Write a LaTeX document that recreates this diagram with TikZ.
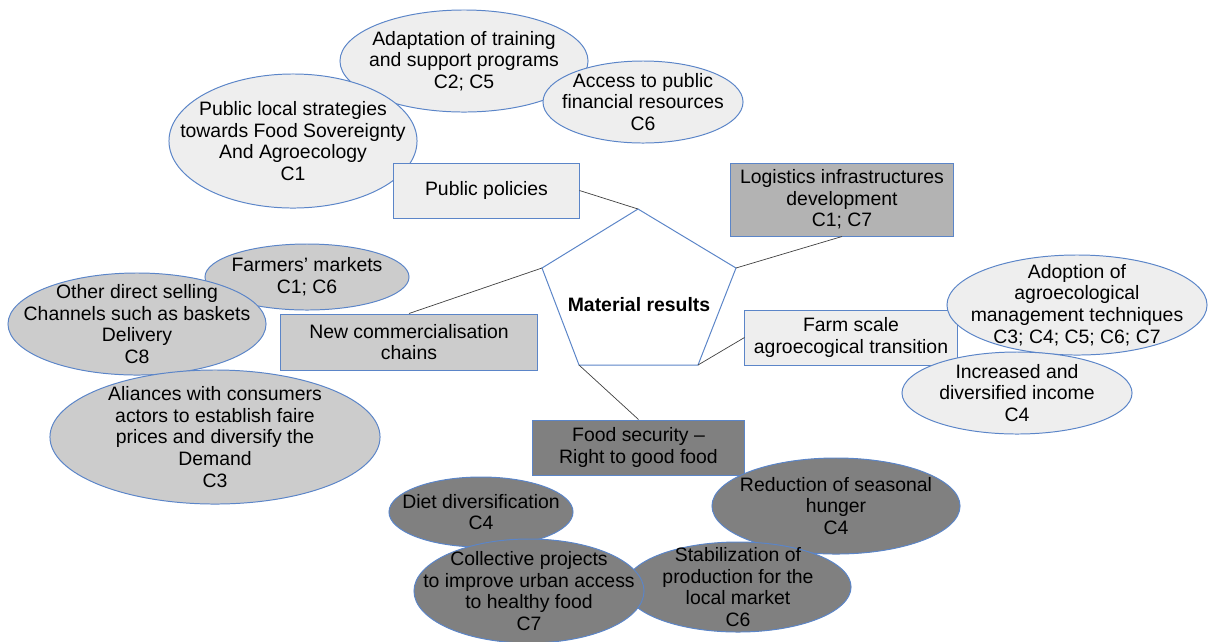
\documentclass[tikz,border=0pt]{standalone}
\usepackage{fontspec}
\setmainfont{Liberation Sans}
\usetikzlibrary{shapes.geometric}

\definecolor{outline}{HTML}{5B85C8}
\definecolor{paleGray}{HTML}{EEEEEE}
\definecolor{midGray}{HTML}{CCCCCC}
\definecolor{boxGray}{HTML}{B3B3B3}
\definecolor{darkGray}{HTML}{808080}
\definecolor{linkGray}{HTML}{404040}

\tikzset{
    txt/.style={font=\fontsize{13.8}{15.4}\selectfont, align=center},
    box/.style={draw=outline, line width=0.7pt, txt, inner sep=0pt},
    bubble/.style={ellipse, draw=outline, line width=0.7pt, inner sep=0pt},
    link/.style={draw=linkGray, line width=0.5pt},
    every label/.style={txt}
}

\begin{document}
\begin{tikzpicture}[x=0.025cm, y=-0.025cm]
    \useasboundingbox (0,0) rectangle (1208,641);

    % Public policies and their bubbles
    \node[bubble, fill=paleGray, minimum width=6.2cm, minimum height=2.55cm,
        label={center:{Adaptation of training\\and support programs\\C2; C5}}] (adapt) at (464,61) {};
    \node[bubble, fill=paleGray, minimum width=6.2cm, minimum height=3.35cm,
        label={center:{Public local strategies\\towards Food Sovereignty\\And Agroecology\\C1}}] (strat) at (293,141) {};
    \node[bubble, fill=paleGray, minimum width=5cm, minimum height=2.05cm,
        label={center:{Access to public\\financial resources\\C6}}] (funds) at (643,102) {};
    \node[box, fill=paleGray, minimum width=4.625cm, minimum height=1.375cm] (policies) at (486.5,190.5) {Public policies};

    % Commercialisation chains
    \node[bubble, fill=midGray, minimum width=5.1cm, minimum height=1.65cm,
        label={center:{Farmers’ markets\\C1; C6}}] (markets) at (307,277) {};
    \node[bubble, fill=midGray, minimum width=6.45cm, minimum height=2.55cm,
        label={center:{Other direct selling\\Channels such as baskets\\Delivery\\C8}}] (direct) at (137,324) {};
    \node[bubble, fill=midGray, minimum width=8.25cm, minimum height=3.35cm,
        label={center:{Aliances with consumers\\actors to establish faire\\prices and diversify the\\Demand\\C3}}] (alliances) at (215,437) {};
    \node[box, fill=midGray, minimum width=6.43cm, minimum height=1.4cm] (chains) at (409,342) {New commercialisation\\chains};

    % Logistics and farm scale transition
    \node[box, fill=boxGray, minimum width=5.55cm, minimum height=1.825cm] (logistics) at (842,199.5) {Logistics infrastructures\\development\\C1; C7};
    \node[box, fill=paleGray, minimum width=5.3cm, minimum height=1.375cm] (farm) at (851,337.5) {Farm scale\\agroecogical transition};
    \node[bubble, fill=paleGray, minimum width=6.5cm, minimum height=2.5cm,
        label={center:{Adoption of\\agroecological\\management techniques\\C3; C4; C5; C6; C7}}] (adoption) at (1077,305) {};
    \node[bubble, fill=paleGray, minimum width=5.75cm, minimum height=2.05cm,
        label={center:{Increased and\\diversified income\\C4}}] (income) at (1017,393) {};

    % Food security
    \node[box, fill=darkGray, minimum width=5.275cm, minimum height=1.375cm] (food) at (638.5,447.5) {Food security --\\Right to good food};
    \node[bubble, fill=darkGray, minimum width=4.6cm, minimum height=1.75cm,
        label={center:{Diet diversification\\C4}}] (diet) at (481,512) {};
    \node[bubble, fill=darkGray, minimum width=6.2cm, minimum height=2.4cm,
        label={center:{Reduction of seasonal\\hunger\\C4}}] (hunger) at (836,506) {};
    \node[bubble, fill=darkGray, minimum width=5.65cm, minimum height=2.25cm,
        label={center:{Stabilization of\\production for the\\local market\\C6}}] (stable) at (738,587) {};
    \node[bubble, fill=darkGray, minimum width=5.75cm, minimum height=2.6cm,
        label={center:{Collective projects\\to improve urban access\\to healthy food\\C7}}] (urban) at (529,591) {};

    % Central pentagon
    \coordinate (pTop) at (638,209);
    \coordinate (pRight) at (736,268);
    \coordinate (pLowR) at (698,365);
    \coordinate (pLowL) at (579,365);
    \coordinate (pLeft) at (542,268);
    \draw[outline, line width=0.7pt, fill=white] (pTop) -- (pRight) -- (pLowR) -- (pLowL) -- (pLeft) -- cycle;
    \node[txt, font=\fontsize{13.8}{15.4}\selectfont\bfseries] (material) at (639,305) {Material results};

    % Links to the pentagon corners
    \draw[link] (policies.east) -- (pTop);
    \draw[link] (logistics.south) -- (pRight);
    \draw[link] (farm.west) -- (pLowR);
    \draw[link] (chains.north) -- (pLeft);
    \draw[link] (pLowL) -- (food.north);
\end{tikzpicture}
\end{document}
